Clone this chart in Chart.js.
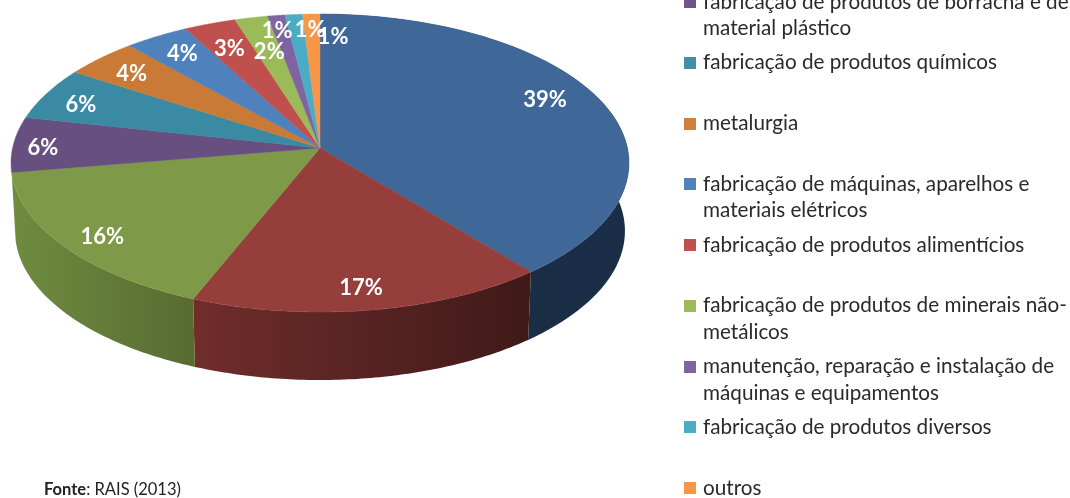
<!DOCTYPE html>
<html>
<head>
<meta charset="utf-8">
<style>
  html, body { margin: 0; padding: 0; background: #fff; overflow: hidden; }
  canvas { display: block; }
</style>
</head>
<body>
<canvas id="grafico" width="1070" height="498"></canvas>
<script src="https://cdn.jsdelivr.net/npm/chart.js@4/dist/chart.umd.min.js"></script>
<script>
// dados
const valores = [39.1, 17, 16.3, 6, 5.7, 4.3, 3.7, 3, 1.9, 1, 1, 1];
// as tres primeiras entradas da legenda estao fora do recorte da imagem
const categorias = [
  [],
  [],
  [],
  ["fabricação de produtos de borracha e de", "material plástico"],
  ["fabricação de produtos químicos"],
  ["metalurgia"],
  ["fabricação de máquinas, aparelhos e", "materiais elétricos"],
  ["fabricação de produtos alimentícios"],
  ["fabricação de produtos de minerais não-", "metálicos"],
  ["manutenção, reparação e instalação de", "máquinas e equipamentos"],
  ["fabricação de produtos diversos"],
  ["outros"],
];
const coresTopo = ["#3f6797", "#963e3c", "#7e9a48", "#674f80", "#3a8aa3", "#c87a36", "#4f81bd", "#c0504d", "#9bbb59", "#8064a2", "#4bacc6", "#f79646"];
const coresLegenda = ["#4f81bd", "#c0504d", "#9bbb59", "#70548f", "#4190a8", "#d08038", "#4f81bd", "#c0504d", "#9bbb59", "#8064a2", "#4bacc6", "#f79646"];
const coresLateral = [
  ["#182b42", "#1a2f47"],
  ["#702d2c", "#3f1a18"],
  ["#6f8c40", "#586b31"],
];
const fonte = "Fonte";
const fonteResto = ": RAIS (2013)";

// perspectiva do disco: apice em (320,148), topo y=14, frente y=312
const apice = { x: 320, y: 148 };
const k = -0.1007, escalaX = 307.4, escalaY = 147.5, profundidade = 68;

function projeta(ang, r = 1) {
  const X = Math.cos(ang) * r, Y = Math.sin(ang) * r;
  const w = 1 + k * Y;
  return { x: apice.x + (escalaX * X) / w, y: apice.y + (escalaY * Y) / w };
}

// desloca os rotulos em relacao a posicao radial (igual ao excel, que foge um pouco do centro)
const ajusteRotulos = [
  [5, -10], [2, 17], [-21, 13], [-38, 3], [-24, 0], [-15, -3], [-8, -6], [-3, 0], [4, 8], [-8, -12], [11, -12], [20, -4],
];

const disco3d = {
  id: "disco3d",
  beforeDatasetsDraw(chart) {
    const ctx = chart.ctx;
    const arcos = chart.getDatasetMeta(0).data;

    // lateral primeiro, o topo cobre o resto
    arcos.forEach((arc, i) => {
      const par = coresLateral[i];
      if (!par) return;
      const n = 80;
      const pts = [];
      for (let j = 0; j <= n; j++) {
        pts.push(projeta(arc.startAngle + ((arc.endAngle - arc.startAngle) * j) / n));
      }
      const xs = pts.map((p) => p.x);
      const grad = ctx.createLinearGradient(Math.min(...xs), 0, Math.max(...xs), 0);
      grad.addColorStop(0, par[0]);
      grad.addColorStop(1, par[1]);
      ctx.fillStyle = grad;
      ctx.beginPath();
      pts.forEach((p, j) => (j ? ctx.lineTo(p.x, p.y) : ctx.moveTo(p.x, p.y)));
      for (let j = n; j >= 0; j--) {
        const p = pts[j];
        ctx.lineTo(apice.x + (p.x - apice.x) * 0.987, p.y + profundidade);
      }
      ctx.closePath();
      ctx.fill();
    });

    // topo
    arcos.forEach((arc, i) => {
      const n = 60;
      ctx.fillStyle = coresTopo[i];
      ctx.strokeStyle = coresTopo[i];
      ctx.lineWidth = 0.5;
      ctx.beginPath();
      ctx.moveTo(apice.x, apice.y);
      for (let j = 0; j <= n; j++) {
        const p = projeta(arc.startAngle + ((arc.endAngle - arc.startAngle) * j) / n);
        ctx.lineTo(p.x, p.y);
      }
      ctx.closePath();
      ctx.fill();
      ctx.stroke();
    });
    return false; // nao desenha o pie padrao
  },
  afterDraw(chart) {
    const ctx = chart.ctx;
    const arcos = chart.getDatasetMeta(0).data;
    const total = valores.reduce((a, b) => a + b, 0);

    // percentuais
    ctx.save();
    ctx.font = "bold 22px Lato";
    ctx.fillStyle = "#ffffff";
    ctx.textAlign = "center";
    ctx.textBaseline = "middle";
    arcos.forEach((arc, i) => {
      const p = projeta((arc.startAngle + arc.endAngle) / 2, 0.78);
      const [dx, dy] = ajusteRotulos[i];
      ctx.fillText(Math.round((valores[i] / total) * 100) + "%", p.x + dx, p.y + dy);
    });
    ctx.restore();

    // legenda
    ctx.save();
    ctx.font = "20.7px Lato";
    ctx.textBaseline = "middle";
    categorias.forEach((linhas, i) => {
      if (!linhas.length) return;
      const y = 2 + (i - 3) * 60.75;
      ctx.fillStyle = coresLegenda[i];
      ctx.fillRect(684, Math.round(y) - 6, 12, 12);
      ctx.fillStyle = "#2a2a2a";
      linhas.forEach((t, l) => ctx.fillText(t, 703, y + l * 26.5));
    });
    ctx.restore();

    // fonte
    ctx.save();
    ctx.textBaseline = "middle";
    ctx.fillStyle = "#222222";
    ctx.font = "bold 16.5px Lato";
    ctx.fillText(fonte, 44, 490);
    const w = ctx.measureText(fonte).width;
    ctx.font = "16.5px Lato";
    ctx.fillText(fonteResto, 44 + w, 490);
    ctx.restore();
  },
};

new Chart(document.getElementById("grafico"), {
  type: "pie",
  data: {
    labels: categorias.map((c) => c.join(" ")),
    datasets: [{ data: valores, backgroundColor: coresTopo, borderWidth: 0 }],
  },
  options: {
    responsive: false,
    animation: false,
    plugins: { legend: { display: false }, tooltip: { enabled: false } },
  },
  plugins: [disco3d],
});
</script>
</body>
</html>
